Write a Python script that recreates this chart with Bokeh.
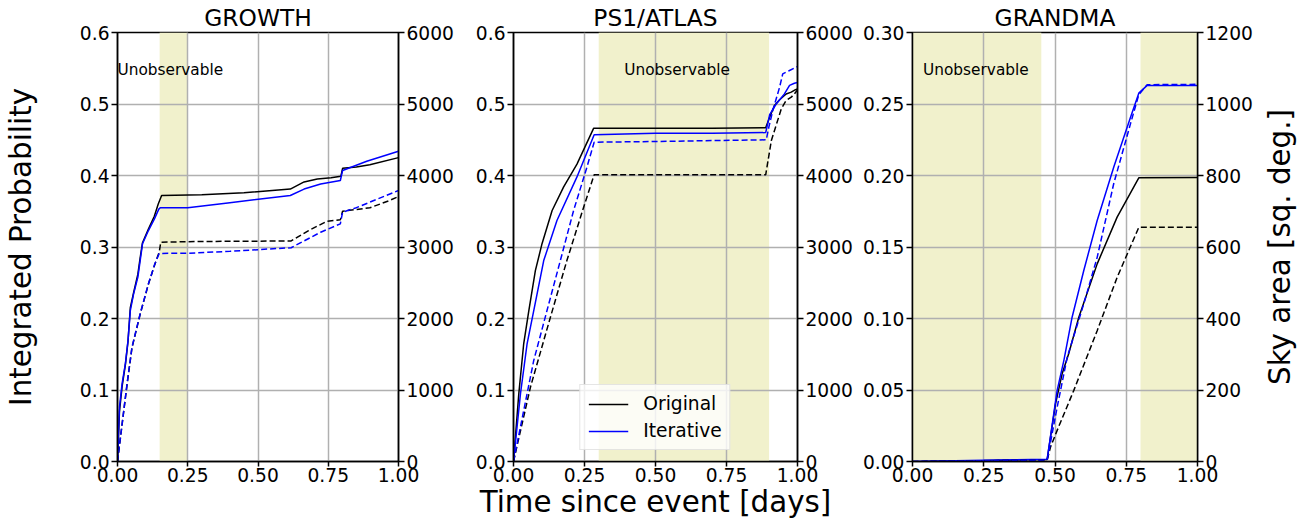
#!/usr/bin/env python

from bokeh.embed import file_html
from bokeh.layouts import row
from bokeh.models import BoxAnnotation
from bokeh.models import FixedTicker
from bokeh.models import Label
from bokeh.models import Legend
from bokeh.models import LegendItem
from bokeh.models import LinearAxis
from bokeh.models import PrintfTickFormatter
from bokeh.models import Range1d
from bokeh.plotting import figure
from bokeh.resources import INLINE

FONT = 'DejaVu Sans'
BLUE = '#0000ff'
SPAN_COLOR = '#f1f1cc'
GRID_COLOR = '#b0b0b0'
FRAME_WIDTH = 285
FRAME_HEIGHT = 429
BORDER_TOP = 32
BORDER_BOTTOM = 62
PLOT_HEIGHT = BORDER_TOP + FRAME_HEIGHT + BORDER_BOTTOM
DASH = '6 3'

X_TICKS = [0.0, 0.25, 0.5, 0.75, 1.0]
PROB_TICKS = [0.0, 0.1, 0.2, 0.3, 0.4, 0.5, 0.6]
AREA_TICKS = [0, 1000, 2000, 3000, 4000, 5000, 6000]
GRANDMA_PROB_TICKS = [0.0, 0.05, 0.10, 0.15, 0.20, 0.25, 0.30]
GRANDMA_AREA_TICKS = [0, 200, 400, 600, 800, 1000, 1200]

# GROWTH
growth_orig_prob_t = [0, 0.007, 0.0164, 0.028, 0.0374, 0.0456, 0.0573, 0.0725, 0.0807, 0.089,
                      0.11, 0.131, 0.145, 0.157, 0.30, 0.45, 0.615, 0.664, 0.711, 0.76, 0.795,
                      0.801, 0.85, 0.898, 1.0]
growth_orig_prob = [0, 0.07, 0.105, 0.135, 0.168, 0.215, 0.236, 0.262, 0.285, 0.306, 0.325,
                    0.343, 0.36, 0.372, 0.373, 0.376, 0.381, 0.391, 0.395, 0.397, 0.399, 0.41,
                    0.412, 0.415, 0.425]
growth_iter_prob_t = [0, 0.007, 0.0164, 0.028, 0.0374, 0.0456, 0.0573, 0.0725, 0.0807, 0.089,
                      0.11, 0.131, 0.147, 0.152, 0.25, 0.40, 0.615, 0.664, 0.723, 0.793, 0.801,
                      0.887, 1.0]
growth_iter_prob = [0, 0.076, 0.109, 0.137, 0.169, 0.211, 0.2345, 0.258, 0.281, 0.3045, 0.323,
                    0.339, 0.353, 0.355, 0.355, 0.362, 0.372, 0.381, 0.388, 0.393, 0.407, 0.42,
                    0.434]
growth_orig_area_t = [0, 0.0164, 0.034, 0.0515, 0.0807, 0.11, 0.133, 0.1485, 0.154, 0.30, 0.45,
                      0.618, 0.68, 0.746, 0.793, 0.801, 0.898, 0.968, 1.0]
growth_orig_area = [0, 520, 1075, 1590, 2060, 2480, 2760, 2930, 3067, 3078, 3080, 3085, 3230,
                    3361, 3380, 3500, 3548, 3650, 3706]
growth_iter_area_t = [0, 0.0164, 0.034, 0.0515, 0.0807, 0.11, 0.133, 0.1485, 0.25, 0.40, 0.618,
                      0.723, 0.793, 0.801, 0.85, 0.898, 1.0]
growth_iter_area = [0, 527, 1087, 1599, 2066, 2485, 2765, 2910, 2913, 2940, 2990, 3207, 3324,
                    3487, 3550, 3627, 3790]
growth_unobservable = [(0.15, 0.25)]

# PS1/ATLAS
ps1_orig_prob_t = [0, 0.0187, 0.036, 0.054, 0.077, 0.1007, 0.136, 0.1766, 0.2235, 0.282, 0.50,
                   0.70, 0.888, 0.902, 0.919, 0.937, 0.960, 0.978, 0.993, 1.0]
ps1_orig_prob = [0, 0.095, 0.165, 0.211, 0.267, 0.305, 0.351, 0.384, 0.416, 0.466, 0.466, 0.466,
                 0.4667, 0.4816, 0.498, 0.506, 0.514, 0.5166, 0.520, 0.521]
ps1_iter_prob_t = [0, 0.0246, 0.048, 0.0713, 0.1064, 0.153, 0.2235, 0.284, 0.50, 0.70, 0.888,
                   0.902, 0.925, 0.954, 0.972, 0.989, 1.0]
ps1_iter_prob = [0, 0.095, 0.165, 0.211, 0.281, 0.337, 0.398, 0.457, 0.459, 0.459, 0.460, 0.485,
                 0.500, 0.514, 0.526, 0.529, 0.530]
ps1_orig_area_t = [0, 0.0596, 0.13, 0.188, 0.247, 0.284, 0.50, 0.70, 0.888, 0.908, 0.943, 0.960,
                   0.978, 0.989, 1.0]
ps1_orig_area = [0, 1039, 2018, 2811, 3557, 4010, 4010, 4010, 4010, 4490, 4933, 5049, 5095,
                 5142, 5198]
ps1_iter_area_t = [0, 0.036, 0.0713, 0.118, 0.165, 0.2116, 0.2585, 0.284, 0.50, 0.70, 0.89,
                   0.899, 0.913, 0.937, 0.948, 0.972, 1.0]
ps1_iter_area = [0, 713, 1413, 2112, 2811, 3510, 4116, 4466, 4475, 4488, 4499, 4675, 4909, 5235,
                 5422, 5469, 5524]
ps1_unobservable = [(0.30, 0.90)]

# GRANDMA
grandma_orig_prob_t = [0, 0.25, 0.4725, 0.5018, 0.525, 0.548, 0.5836, 0.648, 0.718, 0.794, 1.0]
grandma_orig_prob = [0, 0.0007, 0.0014, 0.0403, 0.0613, 0.0753, 0.1009, 0.1382, 0.1709, 0.1984,
                     0.1986]
grandma_iter_prob_t = [0, 0.25, 0.4725, 0.5076, 0.531, 0.560, 0.601, 0.648, 0.706, 0.765, 0.794,
                       0.8235, 1.0]
grandma_iter_prob = [0, 0.0008, 0.0016, 0.0497, 0.0706, 0.1009, 0.1336, 0.1685, 0.2058, 0.2408,
                     0.2576, 0.263, 0.263]
grandma_orig_area_t = [0, 0.25, 0.4725, 0.484, 0.5076, 0.566, 0.648, 0.718, 0.794, 1.0]
grandma_orig_area = [0, 2, 4, 40, 87, 199, 366, 515, 655, 655]
grandma_iter_area_t = [0, 0.25, 0.4725, 0.5076, 0.543, 0.601, 0.648, 0.706, 0.765, 0.794,
                       0.8235, 1.0]
grandma_iter_area = [0, 2, 4, 152, 292, 441, 571, 777, 945, 1026, 1054, 1055]
grandma_unobservable = [(0.0, 0.452), (0.80, 1.0)]


def style_axis(axis, ticks, fmt):
  axis.ticker = FixedTicker(ticks=ticks)
  axis.formatter = PrintfTickFormatter(format=fmt)
  axis.major_label_text_font = FONT
  axis.major_label_text_font_size = '14pt'
  axis.major_label_text_color = 'black'
  axis.major_tick_in = 0
  axis.major_tick_out = 6
  axis.minor_tick_in = 0
  axis.minor_tick_out = 0
  axis.major_label_standoff = 2
  axis.axis_line_width = 1.5
  axis.major_tick_line_width = 1.5
  axis.axis_label_text_font = FONT
  axis.axis_label_text_font_size = '22pt'
  axis.axis_label_text_font_style = 'normal'
  axis.axis_label_text_color = 'black'


def make_panel(name, prob_ticks, prob_fmt, area_ticks, curves, spans, text_xy,
               border_left, border_right):
  p = figure(width=border_left + FRAME_WIDTH + border_right, height=PLOT_HEIGHT,
             x_range=Range1d(0, 1), y_range=Range1d(prob_ticks[0], prob_ticks[-1]),
             output_backend='svg', toolbar_location=None, title=name,
             min_border_left=border_left, min_border_right=border_right,
             min_border_top=BORDER_TOP, min_border_bottom=BORDER_BOTTOM)
  p.extra_y_ranges = {'area': Range1d(area_ticks[0], area_ticks[-1])}
  p.add_layout(LinearAxis(y_range_name='area'), 'right')
  p.outline_line_color = 'black'
  p.outline_line_width = 1.5
  p.title.align = 'center'
  p.title.text_font = FONT
  p.title.text_font_size = '17.5pt'
  p.title.text_font_style = 'normal'
  p.title.text_color = 'black'
  p.title.standoff = 1

  style_axis(p.xaxis[0], X_TICKS, '%.2f')
  style_axis(p.left[0], prob_ticks, prob_fmt)
  style_axis(p.right[0], area_ticks, '%d')
  p.xaxis[0].major_tick_out = 5
  p.xaxis[0].major_label_standoff = 1
  p.xaxis[0].axis_label_standoff = 0

  p.xgrid.ticker = FixedTicker(ticks=X_TICKS)
  p.ygrid.ticker = FixedTicker(ticks=prob_ticks)
  for grid in (p.xgrid, p.ygrid):
    grid.grid_line_color = GRID_COLOR
    grid.grid_line_width = 1.5

  for left, right in spans:
    p.add_layout(BoxAnnotation(left=left, right=right, fill_color=SPAN_COLOR, fill_alpha=1.0,
                               line_alpha=0, level='image'))

  renderers = []
  for t, vals, color, is_area in curves:
    if is_area:
      r = p.line(t, vals, line_color=color, line_width=1.5, line_dash=DASH, y_range_name='area')
    else:
      r = p.line(t, vals, line_color=color, line_width=1.5)
    renderers.append(r)

  p.add_layout(Label(x=text_xy[0], y=text_xy[1], text='Unobservable', text_align='left',
                     text_baseline='middle', text_font=FONT, text_font_size='11.5pt',
                     text_color='black'))
  return p, renderers


def make_side_label(text, border_left):
  # narrow blank strip whose left axis carries the right-hand label, read bottom to top
  p = figure(width=border_left + 1 + 6, height=PLOT_HEIGHT, x_range=Range1d(0, 1),
             y_range=Range1d(0, 1), output_backend='svg', toolbar_location=None,
             x_axis_location=None, min_border_left=border_left, min_border_right=6,
             min_border_top=BORDER_TOP, min_border_bottom=BORDER_BOTTOM)
  p.outline_line_color = None
  p.xgrid.visible = False
  p.ygrid.visible = False
  axis = p.left[0]
  style_axis(axis, [], '%d')
  axis.axis_line_color = None
  axis.major_tick_out = 0
  axis.major_label_standoff = 0
  axis.axis_label_standoff = 0
  axis.axis_label = text
  return p


def main():
  growth, _ = make_panel(
      'GROWTH', PROB_TICKS, '%.1f', AREA_TICKS,
      [(growth_orig_prob_t, growth_orig_prob, 'black', False),
       (growth_iter_prob_t, growth_iter_prob, BLUE, False),
       (growth_orig_area_t, growth_orig_area, 'black', True),
       (growth_iter_area_t, growth_iter_area, BLUE, True)],
      growth_unobservable, (0.0, 0.548), 114, 57)
  growth.left[0].axis_label = 'Integrated Probability'
  growth.left[0].axis_label_standoff = 39

  ps1, rs = make_panel(
      'PS1/ATLAS', PROB_TICKS, '%.1f', AREA_TICKS,
      [(ps1_orig_prob_t, ps1_orig_prob, 'black', False),
       (ps1_iter_prob_t, ps1_iter_prob, BLUE, False),
       (ps1_orig_area_t, ps1_orig_area, 'black', True),
       (ps1_iter_area_t, ps1_iter_area, BLUE, True)],
      ps1_unobservable, (0.39, 0.548), 57, 57)
  legend = Legend(items=[LegendItem(label='Original', renderers=[rs[0]]),
                         LegendItem(label='Iterative', renderers=[rs[1]])],
                  location='bottom_center', margin=11, padding=8, spacing=6,
                  glyph_width=40, glyph_height=20, label_height=20, label_standoff=15,
                  label_text_font=FONT, label_text_font_size='14pt', label_text_color='black',
                  border_line_color='#cccccc', border_line_width=1,
                  background_fill_color='white', background_fill_alpha=0.8)
  ps1.add_layout(legend)
  ps1.xaxis[0].axis_label = 'Time since event [days]'

  grandma, _ = make_panel(
      'GRANDMA', GRANDMA_PROB_TICKS, '%.2f', GRANDMA_AREA_TICKS,
      [(grandma_orig_prob_t, grandma_orig_prob, 'black', False),
       (grandma_iter_prob_t, grandma_iter_prob, BLUE, False),
       (grandma_orig_area_t, grandma_orig_area, 'black', True),
       (grandma_iter_area_t, grandma_iter_area, BLUE, True)],
      grandma_unobservable, (0.037, 0.274), 57, 59)
  sky = make_side_label('Sky area [sq. deg.]', 40)

  layout = row(growth, ps1, grandma, sky)
  with open('out.html', 'w') as f:
    f.write(file_html(layout, INLINE))


if __name__ == '__main__':
  main()
